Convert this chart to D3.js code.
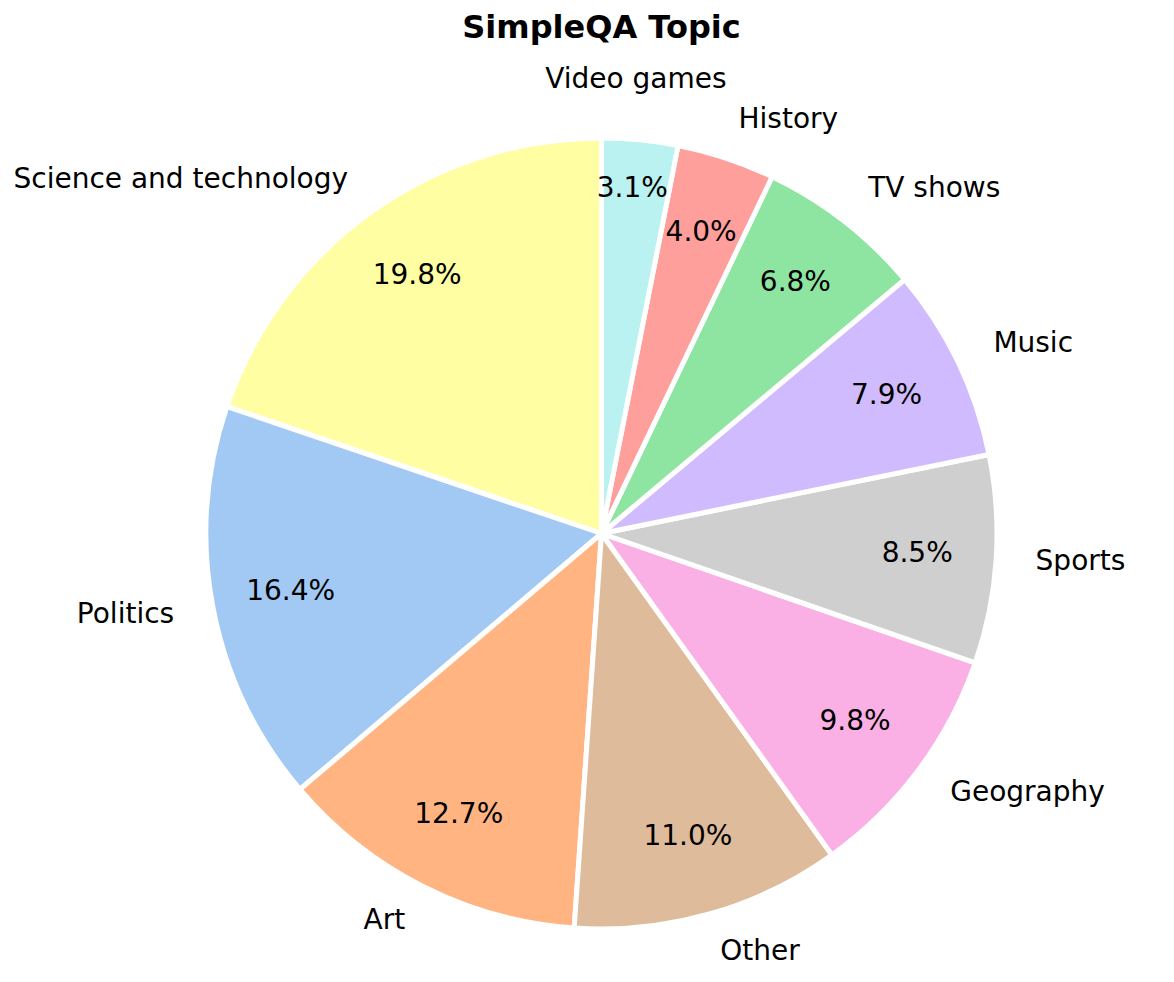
<!DOCTYPE html>
<html>
<head>
<meta charset="utf-8">
<script src="https://cdn.jsdelivr.net/npm/d3@7"></script>
<style>
  html, body { margin: 0; padding: 0; background: #ffffff; }
  svg { display: block; }
  text { font-family: "DejaVu Sans", sans-serif; fill: #000; }
</style>
</head>
<body>
<div id="chart"></div>
<script>
// ---- data ----
const title = "SimpleQA Topic";
const categories = ["Science and technology", "Politics", "Art", "Other", "Geography",
                    "Sports", "Music", "TV shows", "History", "Video games"];
const shares = [19.8, 16.4, 12.7, 11.0, 9.8, 8.5, 7.9, 6.8, 4.0, 3.1];
const colors = ["#fffea3", "#a1c9f4", "#ffb482", "#debb9b", "#fab0e4",
                "#cfcfcf", "#d0bbff", "#8de5a1", "#ff9f9b", "#b9f2f0"];

// ---- layout ----
const W = 1174, H = 982;
const cx = 601.5, cy = 533.5, R = 395.5;
const labelDist = 1.1, pctDist = 0.8;
const fontPx = 28;

const data = categories.map((c, i) => ({ name: c, value: shares[i], color: colors[i] }));

const svg = d3.select("#chart").append("svg")
  .attr("width", W).attr("height", H);

svg.append("text")
  .attr("x", cx).attr("y", 38)
  .attr("text-anchor", "middle")
  .style("font-size", "32px").style("font-weight", "bold")
  .text(title);

// counter-clockwise from 12 o'clock (matplotlib startangle=90)
const pie = d3.pie().sort(null).value(d => d.value)
  .startAngle(0).endAngle(-2 * Math.PI);
const arcs = pie(data);

const arc = d3.arc().innerRadius(0).outerRadius(R);

const g = svg.append("g").attr("transform", `translate(${cx},${cy})`);

g.selectAll("path.wedge").data(arcs).enter().append("path")
  .attr("class", "wedge")
  .attr("d", arc)
  .attr("fill", d => d.data.color)
  .attr("stroke", "#ffffff")
  .attr("stroke-width", 5)
  .attr("stroke-linejoin", "round");

const mid = d => (d.startAngle + d.endAngle) / 2;
const isTopSmall = d => Math.abs(Math.sin(mid(d))) < 0.15 && Math.cos(mid(d)) > 0;

// category labels
g.selectAll("text.lab").data(arcs).enter().append("text")
  .attr("class", "lab")
  .each(function(d) {
    const a = mid(d);
    let x = labelDist * R * Math.sin(a);
    let y = -labelDist * R * Math.cos(a);
    let anchor = x > 0 ? "start" : "end";
    if (isTopSmall(d)) { anchor = "middle"; x -= 8; y -= 20; }
    d3.select(this).attr("x", x).attr("y", y).attr("text-anchor", anchor);
  })
  .attr("dy", "0.27em")
  .style("font-size", fontPx + "px")
  .text(d => d.data.name);

// percentage labels
g.selectAll("text.pct").data(arcs).enter().append("text")
  .attr("class", "pct")
  .each(function(d) {
    const a = mid(d);
    let x = pctDist * R * Math.sin(a);
    let y = -pctDist * R * Math.cos(a);
    if (isTopSmall(d)) { y -= 29; }
    d3.select(this).attr("x", x).attr("y", y);
  })
  .attr("text-anchor", "middle")
  .attr("dy", "0.27em")
  .style("font-size", fontPx + "px")
  .text(d => d.data.value.toFixed(1) + "%");
</script>
</body>
</html>
